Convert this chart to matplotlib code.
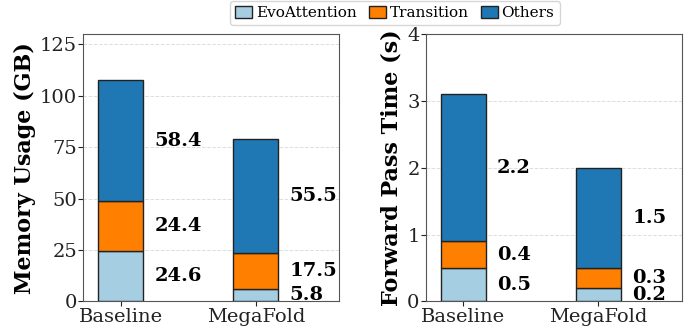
import matplotlib
matplotlib.use("Agg")
import matplotlib.pyplot as plt
import numpy as np
from matplotlib.patches import Patch

systems = ["Baseline", "MegaFold"]
components = ["EvoAttention", "Transition", "Others"]
colors = ["#a6cee3", "#ff7f00", "#1f78b4"]

memory_evo = [24.6, 5.8]
memory_transition = [24.4, 17.5]
memory_others = [58.4, 55.5]

time_evo = [0.5, 0.2]
time_transition = [0.4, 0.3]
time_others = [2.2, 1.5]

plt.rcParams["font.family"] = "DejaVu Serif"

fig, axes = plt.subplots(1, 2, figsize=(6.94, 3.33), dpi=100)
fig.subplots_adjust(left=0.12, right=0.982, bottom=0.095, top=0.898, wspace=0.34)

panels = [
    (axes[0], [memory_evo, memory_transition, memory_others], "Memory Usage (GB)", (0, 130), [0, 25, 50, 75, 100, 125]),
    (axes[1], [time_evo, time_transition, time_others], "Forward Pass Time (s)", (0, 4), [0, 1, 2, 3, 4]),
]

x = np.arange(len(systems))
width = 0.335
for ax, series, ylabel, ylim, yticks in panels:
    bottom = np.zeros(len(systems))
    for vals, color in zip(series, colors):
        vals = np.array(vals)
        ax.bar(x, vals, width, bottom=bottom, color=color, edgecolor="#222222", linewidth=1.0, zorder=3)
        for xi, b, v in zip(x, bottom, vals):
            ax.text(xi + 0.25, b + v / 2, f"{v:.1f}", ha="left", va="center",
                    fontsize=14, fontweight="bold", zorder=4)
        bottom = bottom + vals
    ax.set_ylim(*ylim)
    ax.set_yticks(yticks)
    ax.set_xlim(-0.278, 1.615)
    ax.set_xticks(x)
    ax.set_xticklabels(systems)
    ax.tick_params(axis="both", labelsize=14, colors="#222222", pad=1)
    ax.set_ylabel(ylabel, fontsize=16, fontweight="bold", labelpad=3)
    ax.yaxis.grid(True, linestyle="--", color="#dddddd", linewidth=0.7, zorder=0)
    for s in ax.spines.values():
        s.set_color("#555555")

handles = [Patch(facecolor=c, edgecolor="#222222", label=n) for c, n in zip(colors, components)]
fig.legend(handles=handles, loc="upper center", bbox_to_anchor=(0.569, 1.012), ncol=3,
           fontsize=11, frameon=True, handlelength=1.1, handleheight=0.8,
           handletextpad=0.25, columnspacing=0.8, borderpad=0.35, borderaxespad=0.3,
           edgecolor="#cccccc")

fig.savefig("out.png", dpi=100)
